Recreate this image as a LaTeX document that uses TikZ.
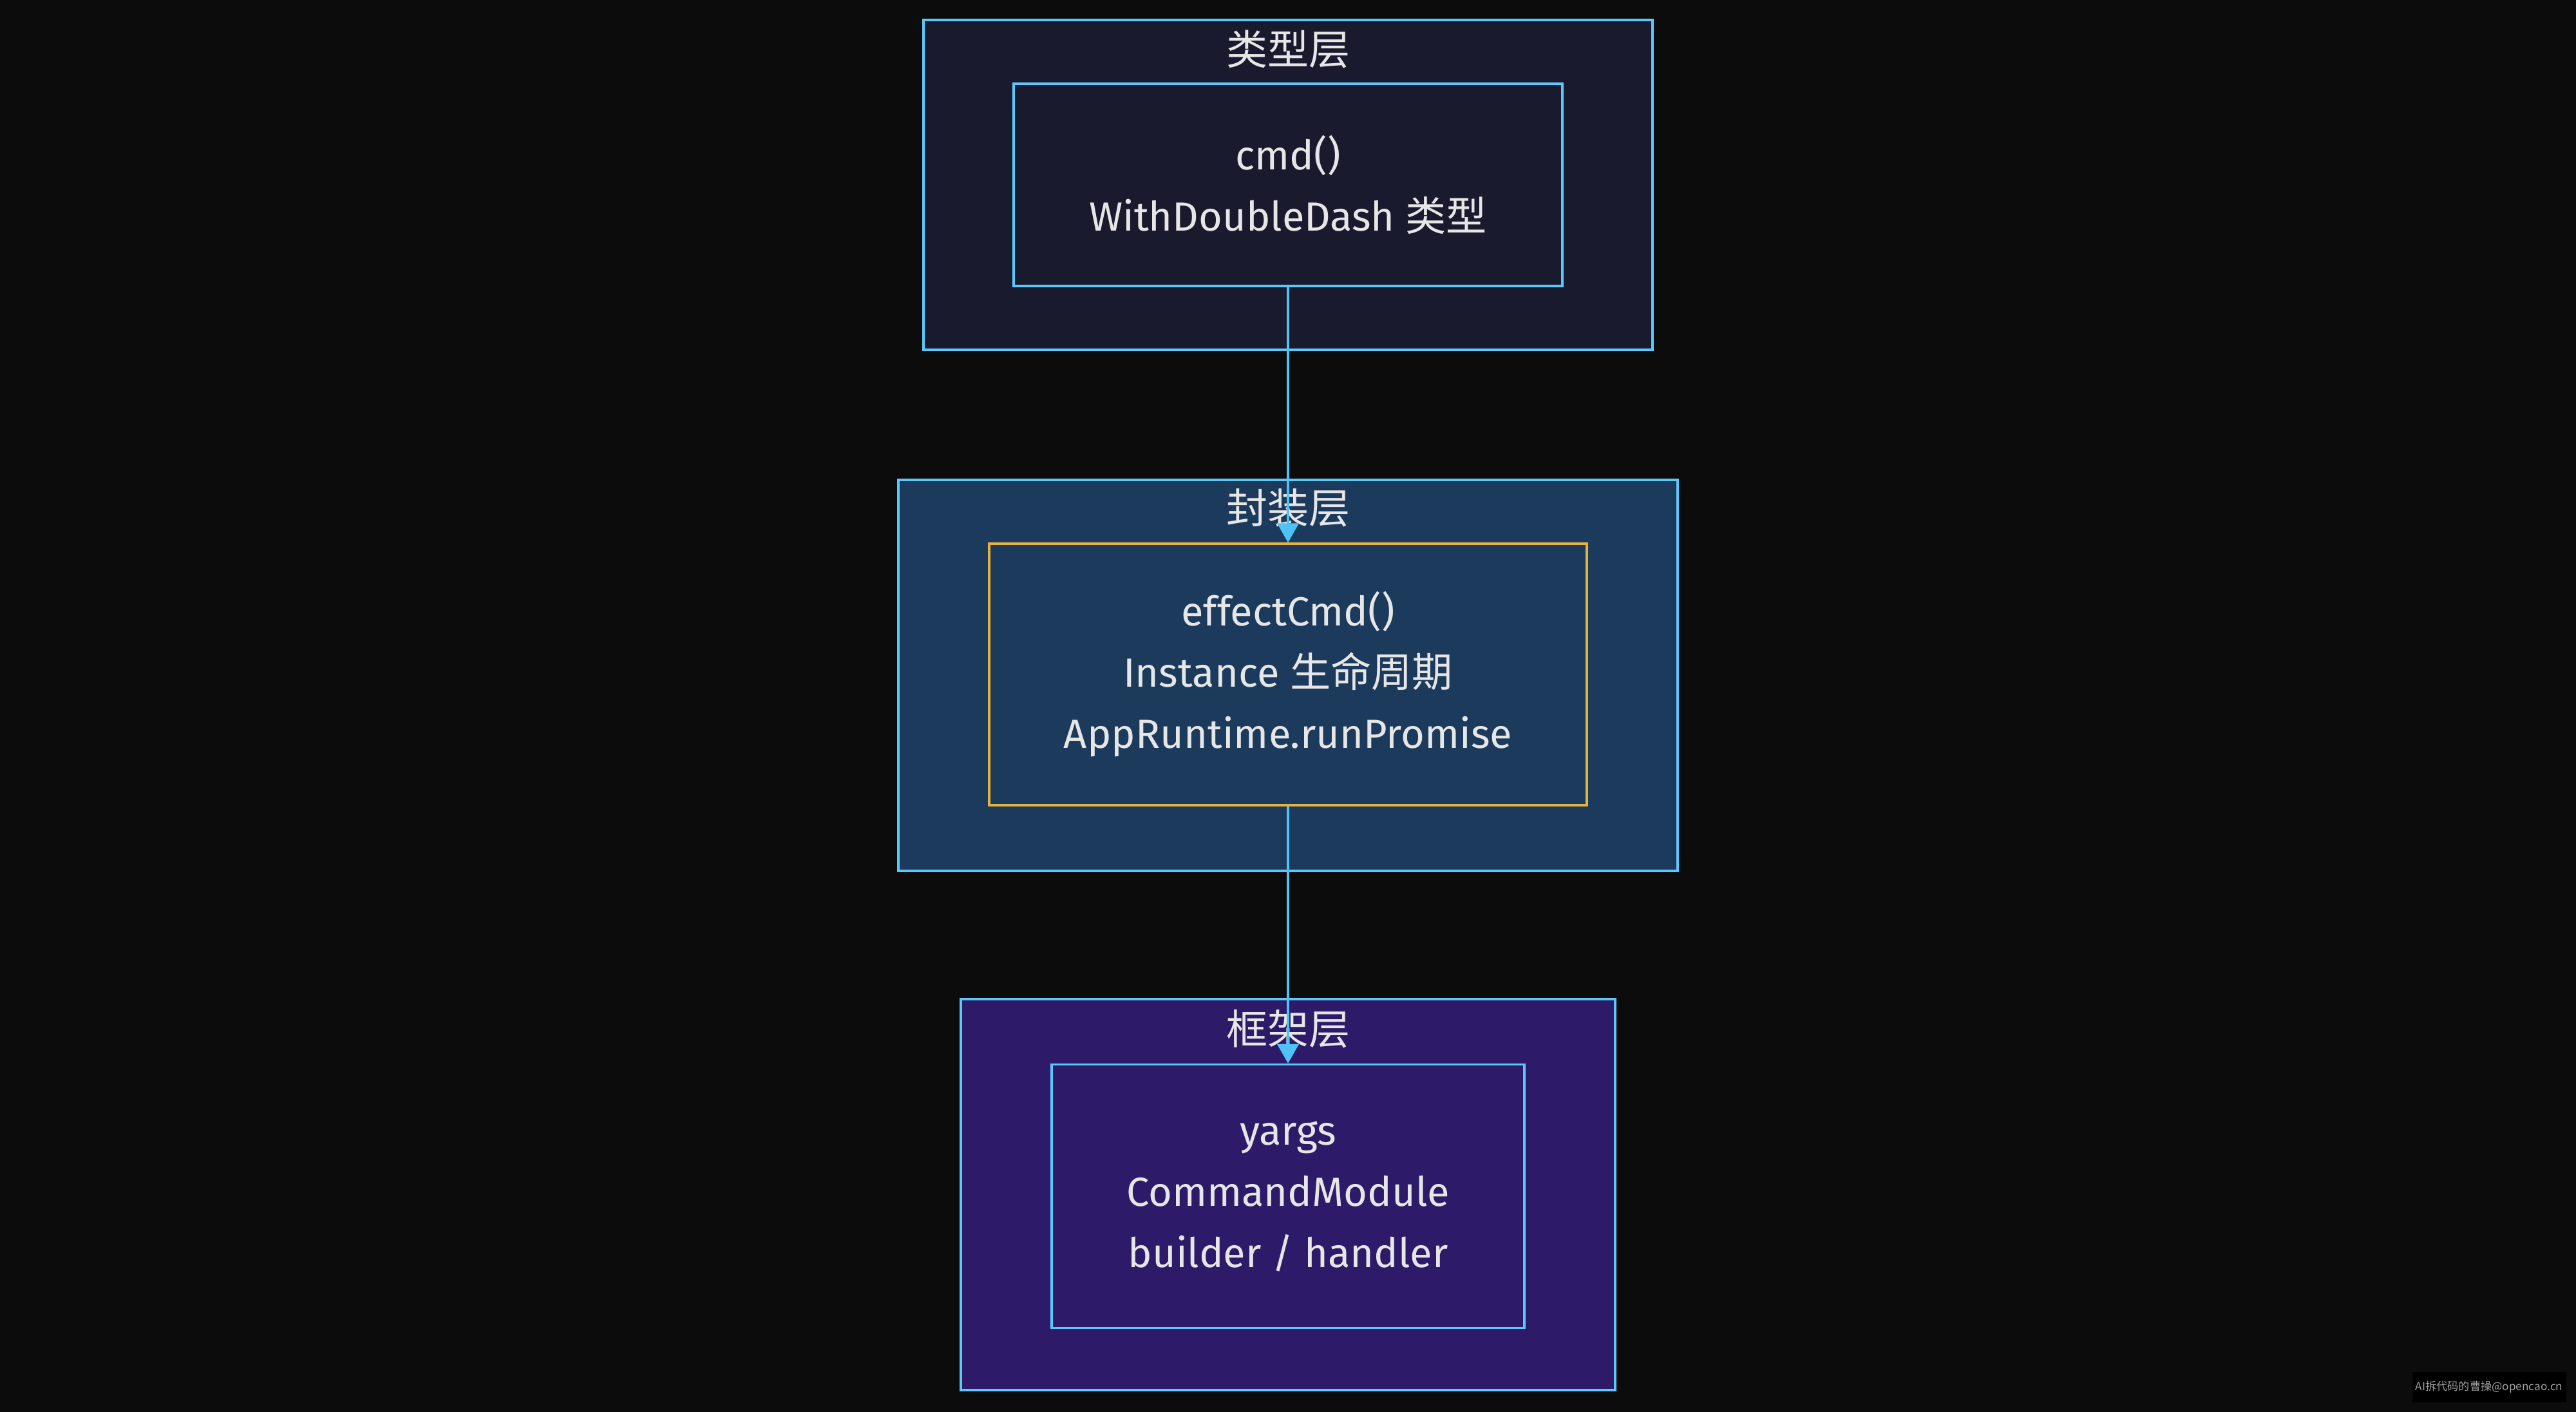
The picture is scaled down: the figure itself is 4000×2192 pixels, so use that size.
\documentclass[tikz,border=0pt]{standalone}
\usepackage{fontspec}
\setmainfont{Fira Sans}
\newfontfamily\cjk{Noto Sans CJK SC}
\usetikzlibrary{arrows.meta}
\definecolor{bg}{HTML}{0C0C0C}
\definecolor{fillA}{HTML}{1A1A2E}
\definecolor{fillB}{HTML}{1B3A5C}
\definecolor{fillC}{HTML}{2D1B69}
\definecolor{edgeblue}{HTML}{5CC8FA}
\definecolor{gold}{HTML}{E6B43C}
\definecolor{txt}{HTML}{E6E6E6}
\definecolor{arrowblue}{HTML}{4FC3F7}
\definecolor{wmtext}{HTML}{A0A0A0}
\begin{document}
\begin{tikzpicture}[x=0.25pt,y=-0.25pt,
  layerbox/.style={draw=edgeblue, line width=0.85pt, inner sep=0pt},
  itembox/.style={line width=0.85pt, inner sep=0pt, align=center, text=txt,
    font=\fontsize{15.8}{23.75}\selectfont},
  layertitle/.style={text=txt, inner sep=0pt, font=\fontsize{16}{20}\selectfont\cjk},
  conn/.style={draw=arrowblue, line width=1pt, -{Triangle[width=8.25pt,length=7.5pt]}}]
\fill[bg] (0,0) rectangle (4000,2192);
\useasboundingbox (0,0) rectangle (4000,2192);

% type layer
\node[layerbox, fill=fillA, minimum width=283pt, minimum height=128pt] (L1) at (2000,287) {};
\node[layertitle] (T1) at (2000,77) {类型层};
\node[itembox, fill=fillA, draw=edgeblue, minimum width=213pt, minimum height=78.5pt] (N1) at (2000,287)
  {cmd()\\WithDoubleDash {\cjk 类型}};

% wrapper layer
\node[layerbox, fill=fillB, minimum width=302.5pt, minimum height=151.75pt] (L2) at (2000,1048.5) {};
\node[layertitle] (T2) at (2000,788) {封装层};
\node[itembox, fill=fillB, draw=gold, minimum width=232pt, minimum height=101.5pt] (N2) at (2000,1047)
  {effectCmd()\\Instance {\cjk 生命周期}\\AppRuntime.runPromise};

% framework layer
\node[layerbox, fill=fillC, minimum width=254pt, minimum height=151.75pt] (L3) at (2000,1854.5) {};
\node[layertitle] (T3) at (2000,1597) {框架层};
\node[itembox, fill=fillC, draw=edgeblue, minimum width=183.5pt, minimum height=102.25pt] (N3) at (2000,1857)
  {yargs\\CommandModule\\builder / handler};

% connectors
\draw[conn] (N1.south) -- (N2.north);
\draw[conn] (N2.south) -- (N3.north);

% watermark
\node[fill=black, text=wmtext, inner sep=0pt, minimum width=59.75pt, minimum height=11.75pt,
  font=\fontsize{4.3}{5}\selectfont\cjk] (WM) at (3865,2153) {AI拆代码的曹操@opencao.cn};
\end{tikzpicture}
\end{document}
